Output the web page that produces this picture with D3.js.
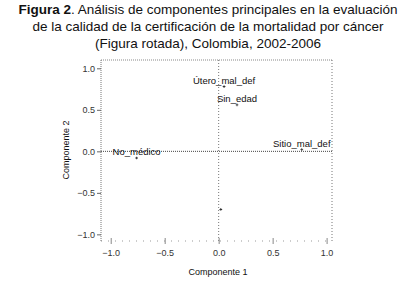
<!DOCTYPE html>
<html>
<head>
<meta charset="utf-8">
<script src="https://cdn.jsdelivr.net/npm/d3@7"></script>
<style>
  body { margin: 0; background: #fff; }
  text { font-family: "Liberation Sans", Arial, sans-serif; }
</style>
</head>
<body>
<svg id="chart" width="415" height="288"></svg>
<script>
// component loadings
const labels = ["Útero_mal_def", "Sin_edad", "Sitio_mal_def", "No_médico", ""];
const comp1 = [0.05, 0.17, 0.77, -0.76, 0.02];
const comp2 = [0.78, 0.56, 0.02, -0.08, -0.70];
const tickValues = [-1.0, -0.5, 0.0, 0.5, 1.0];

const svg = d3.select("#chart");

// title
let title = svg.append("text").attr("text-anchor", "middle").style("font-size", "13.5px").attr("fill", "#111");
title.append("tspan").attr("x", 208).attr("y", 14).style("font-weight", "bold").text("Figura 2");
title.append("tspan").text(". Análisis de componentes principales en la evaluación");
svg.append("text").attr("x", 208).attr("y", 31).attr("text-anchor", "middle")
    .style("font-size", "13.5px").attr("fill", "#111")
    .text("de la calidad de la certificación de la mortalidad por cáncer");
svg.append("text").attr("x", 208).attr("y", 48).attr("text-anchor", "middle")
    .style("font-size", "13.5px").attr("fill", "#111")
    .text("(Figura rotada), Colombia, 2002-2006");

let xr1 = 101, xr2 = 332, yr1 = 60, yr2 = 241;

let xScale = d3.scaleLinear().domain([-1.09, 1.05]).range([xr1, xr2]);
let yScale = d3.scaleLinear().domain([-1.08, 1.10]).range([yr2, yr1]);

let plot = svg.append("g");

// frame
plot.append("line").attr("x1", xr1).attr("x2", xr2).attr("y1", yr1).attr("y2", yr1)
    .attr("stroke", "#888").attr("stroke-dasharray", "1,1");
plot.append("line").attr("x1", xr2).attr("x2", xr2).attr("y1", yr1).attr("y2", yr2)
    .attr("stroke", "#777").attr("stroke-dasharray", "1,2");
plot.append("line").attr("x1", xr1).attr("x2", xr2).attr("y1", yr2).attr("y2", yr2)
    .attr("stroke", "#999").attr("stroke-dasharray", "1,6");

// zero reference lines
plot.append("line").attr("x1", xr1).attr("x2", xr2).attr("y1", yScale(0)).attr("y2", yScale(0))
    .attr("stroke", "#444").attr("stroke-dasharray", "1,1");
plot.append("line").attr("x1", xScale(0)).attr("x2", xScale(0)).attr("y1", yr1).attr("y2", yr2)
    .attr("stroke", "#777").attr("stroke-dasharray", "1,2");

// axes
let yAxis = d3.axisLeft(yScale).tickValues(tickValues).tickFormat(d3.format(".1f")).tickSize(4).tickPadding(2);
let yg = svg.append("g").attr("transform", "translate(" + xr1 + ",0)").call(yAxis);
yg.select(".domain").attr("stroke", "#777").attr("stroke-dasharray", "1,1").attr("d", "M0," + yr1 + "V" + yr2);
yg.selectAll(".tick line").attr("stroke", "#666");
yg.selectAll("text").style("font-size", "9px").attr("fill", "#333").style("font-family", "Liberation Sans, Arial, sans-serif");

let xAxis = d3.axisBottom(xScale).tickValues(tickValues).tickFormat(d3.format(".1f")).tickSize(4).tickPadding(5);
let xg = svg.append("g").attr("transform", "translate(0," + yr2 + ")").call(xAxis);
xg.select(".domain").remove();
xg.selectAll(".tick line").attr("stroke", "#888").attr("y1", -3).attr("y2", 3);
xg.selectAll("text").style("font-size", "9px").attr("fill", "#333").style("font-family", "Liberation Sans, Arial, sans-serif");

// axis titles
svg.append("text").attr("x", 218).attr("y", 275).attr("text-anchor", "middle")
    .style("font-size", "9px").attr("fill", "#111").text("Componente 1");
svg.append("text").attr("transform", "translate(69,150) rotate(-90)").attr("text-anchor", "middle")
    .style("font-size", "9px").attr("fill", "#111").text("Componente 2");

// points
let pts = labels.map((l, i) => ({ label: l, x: comp1[i], y: comp2[i] }));
let g = plot.selectAll(".pt").data(pts).enter().append("g").attr("class", "pt");
g.append("path")
    .attr("d", d3.symbol(d3.symbolCross, 4))
    .attr("transform", d => "translate(" + xScale(d.x) + "," + yScale(d.y) + ")")
    .attr("fill", "#333");
g.append("text")
    .attr("x", d => xScale(d.x))
    .attr("y", d => yScale(d.y) - 3)
    .attr("text-anchor", "middle")
    .style("font-size", "9.5px").attr("fill", "#111")
    .text(d => d.label);
</script>
</body>
</html>
